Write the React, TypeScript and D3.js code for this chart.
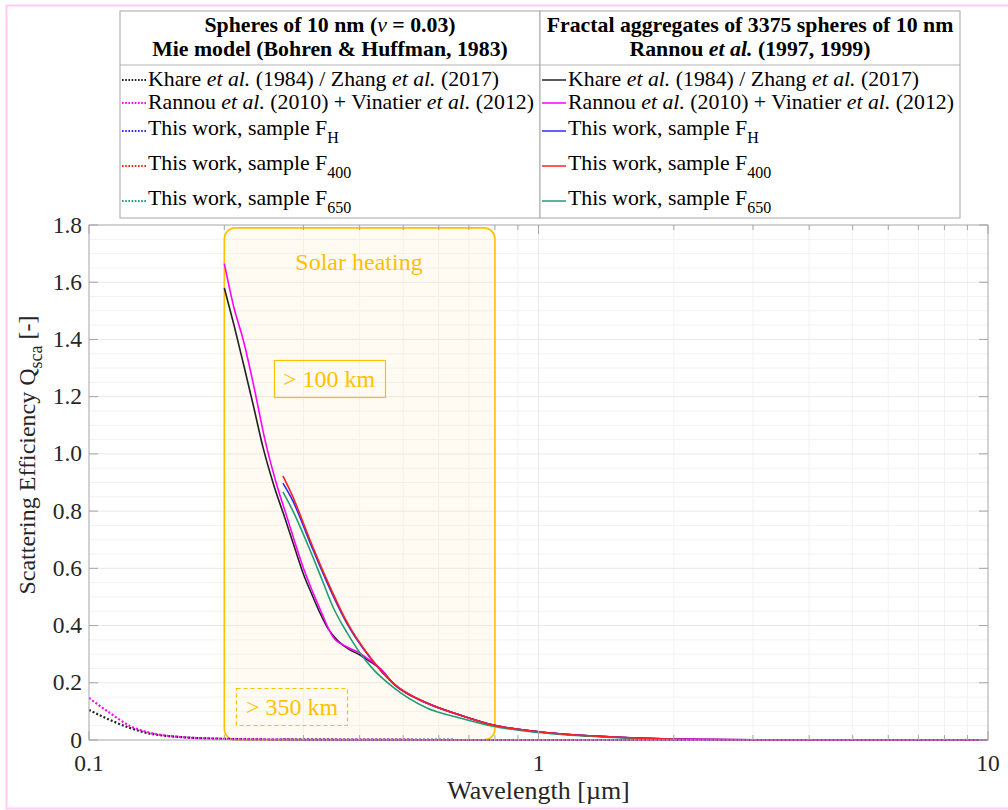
import React from 'react';
import * as d3 from 'd3';

// ---------- data ----------
const xTicks = [0.1, 1, 10];
const xTickLabels = ['0.1', '1', '10'];
const yTicks = [0, 0.2, 0.4, 0.6, 0.8, 1.0, 1.2, 1.4, 1.6, 1.8];
const yTickLabels = ['0', '0.2', '0.4', '0.6', '0.8', '1.0', '1.2', '1.4', '1.6', '1.8'];

// Fractal aggregates (solid lines)
const fracKhareLambda = [0.2, 0.21, 0.2204, 0.232, 0.2441, 0.258, 0.2729, 0.287, 0.2993, 0.313, 0.3265, 0.34, 0.3561, 0.378, 0.4008, 0.4218, 0.444, 0.4746, 0.5646, 0.6688, 0.792, 1.0, 1.465, 2.1, 3, 5, 10];
const fracKhareQ = [1.58, 1.452, 1.317, 1.17, 1.02, 0.888, 0.775, 0.67, 0.584, 0.51, 0.444, 0.39, 0.35, 0.318, 0.297, 0.274, 0.25, 0.199, 0.129, 0.087, 0.052, 0.029, 0.0105, 0.003, 0.001, 0.0003, 0.0];

const fracRannouLambda = [0.2, 0.2102, 0.2204, 0.2328, 0.2463, 0.2605, 0.2757, 0.2993, 0.3265, 0.349, 0.375, 0.4008, 0.4218, 0.444, 0.4746, 0.5646, 0.6688, 0.792, 1.0, 1.465, 2.1, 3, 5, 10];
const fracRannouQ = [1.665, 1.51, 1.398, 1.234, 1.049, 0.902, 0.779, 0.605, 0.458, 0.36, 0.325, 0.303, 0.278, 0.25, 0.199, 0.129, 0.087, 0.052, 0.029, 0.0105, 0.003, 0.001, 0.0003, 0.0];

const fracFHLambda = [0.27, 0.2843, 0.3102, 0.3384, 0.375, 0.4218, 0.4746, 0.5646, 0.6688, 0.792, 1.0, 1.465, 2.1];
const fracFHQ = [0.898, 0.835, 0.69, 0.551, 0.407, 0.288, 0.198, 0.129, 0.087, 0.052, 0.029, 0.0105, 0.002];

const fracF400Lambda = [0.27, 0.2843, 0.3102, 0.3384, 0.375, 0.4218, 0.4746, 0.5646, 0.6688, 0.792, 1.0, 1.465, 2.1];
const fracF400Q = [0.923, 0.849, 0.699, 0.559, 0.412, 0.29, 0.199, 0.129, 0.087, 0.052, 0.029, 0.0105, 0.002];

const fracF650Lambda = [0.27, 0.2843, 0.3102, 0.33, 0.349, 0.375, 0.4008, 0.43, 0.4746, 0.5646, 0.6688, 0.792, 1.0, 1.465, 2.1];
const fracF650Q = [0.867, 0.8, 0.664, 0.56, 0.465, 0.375, 0.304, 0.245, 0.185, 0.112, 0.077, 0.048, 0.026, 0.009, 0.002];

// Mie spheres (dotted lines)
const mieKhareLambda = [0.1, 0.1114, 0.1234, 0.1346, 0.1593, 0.2, 0.25, 0.3, 0.5, 1, 2, 5, 10];
const mieKhareQ = [0.105, 0.07, 0.042, 0.0245, 0.0105, 0.004, 0.0017, 0.0008, 0.0001, 0, 0, 0, 0];

const mieRannouLambda = [0.1, 0.1114, 0.1234, 0.1346, 0.1593, 0.2, 0.25, 0.3, 0.5, 1, 2, 5, 10];
const mieRannouQ = [0.147, 0.094, 0.049, 0.028, 0.0105, 0.004, 0.0017, 0.0008, 0.0001, 0, 0, 0, 0];

const mieSampleLambda = [0.27, 0.5, 1.0, 2.1];
const mieFHQ = [0.002, 0.0002, 0.00001, 0];
const mieF400Q = [0.002, 0.0002, 0.00001, 0];
const mieF650Q = [0.002, 0.0002, 0.00001, 0];

const solarBand = [0.2, 0.8];
const solarTop = 1.79;

// ---------- layout ----------
const W = 1008;
const H = 810;
const L = 89, R = 988, T = 225, B = 740;
const FONT = "'Liberation Serif', 'DejaVu Serif', serif";
const ORANGE = '#FFC000';
const LEG_FS = 21.8;

const COLORS = {
  black: '#222222',
  magenta: '#FF00FF',
  blue: '#2b2bff',
  red: '#FF2020',
  green: '#1f9e72',
};

type Series = { lam: number[]; q: number[]; color: string };

const solidSeries: Series[] = [
  { lam: fracKhareLambda, q: fracKhareQ, color: COLORS.black },
  { lam: fracRannouLambda, q: fracRannouQ, color: COLORS.magenta },
  { lam: fracFHLambda, q: fracFHQ, color: COLORS.blue },
  { lam: fracF650Lambda, q: fracF650Q, color: COLORS.green },
  { lam: fracF400Lambda, q: fracF400Q, color: COLORS.red },
];
const dottedSeries: Series[] = [
  { lam: mieKhareLambda, q: mieKhareQ, color: COLORS.black },
  { lam: mieSampleLambda, q: mieFHQ, color: COLORS.blue },
  { lam: mieSampleLambda, q: mieF400Q, color: COLORS.red },
  { lam: mieSampleLambda, q: mieF650Q, color: COLORS.green },
  { lam: mieRannouLambda, q: mieRannouQ, color: COLORS.magenta },
];

const legendRows = [
  { line: 80, base: 86, parts: [['Khare ', 'n'], ['et al.', 'i'], [' (1984) / Zhang ', 'n'], ['et al.', 'i'], [' (2017)', 'n']], sub: '', color: COLORS.black },
  { line: 103, base: 109, parts: [['Rannou ', 'n'], ['et al.', 'i'], [' (2010) + Vinatier ', 'n'], ['et al.', 'i'], [' (2012)', 'n']], sub: '', color: COLORS.magenta },
  { line: 131, base: 135, parts: [['This work, sample F', 'n']], sub: 'H', color: COLORS.blue },
  { line: 166, base: 170, parts: [['This work, sample F', 'n']], sub: '400', color: COLORS.red },
  { line: 201, base: 205, parts: [['This work, sample F', 'n']], sub: '650', color: COLORS.green },
];

const fs = (size: number, extra: React.CSSProperties = {}): React.CSSProperties => ({
  fontFamily: FONT,
  fontSize: size,
  ...extra,
});

export default function App() {
  const x = d3.scaleLog().domain([0.1, 10]).range([L, R]);
  const y = d3.scaleLinear().domain([0, 1.8]).range([B, T]);

  const line = d3
    .line<[number, number]>()
    .x((d) => x(d[0]))
    .y((d) => y(d[1]))
    .curve(d3.curveMonotoneX);

  const pts = (s: Series) => s.lam.map((l, i) => [l, s.q[i]] as [number, number]);

  const minorX: number[] = [];
  [0.1, 1].forEach((dec) => {
    for (let k = 2; k <= 9; k++) minorX.push(dec * k);
  });
  const minorY: number[] = [];
  for (let i = 1; i < 36; i++) {
    if (i % 4 !== 0) minorY.push(i * 0.05);
  }

  const renderParts = (parts: string[][]) =>
    parts.map((p, i) => (
      <tspan key={i} style={{ fontStyle: p[1] === 'i' ? 'italic' : 'normal' }}>
        {p[0]}
      </tspan>
    ));

  const legendBox = (x0: number, x1: number, dotted: boolean, head1: React.ReactNode, head2: React.ReactNode) => {
    const cx = (x0 + x1) / 2;
    return (
      <g>
        <rect x={x0} y={11} width={x1 - x0} height={207} fill="#fff" stroke="#b4b4b4" strokeWidth={1.2} />
        <line x1={x0} x2={x1} y1={65} y2={65} stroke="#b4b4b4" strokeWidth={1.2} />
        <text x={cx} y={32} textAnchor="middle" style={fs(LEG_FS, { fontWeight: 'bold' })} fill="#000">
          {head1}
        </text>
        <text x={cx} y={56} textAnchor="middle" style={fs(LEG_FS, { fontWeight: 'bold' })} fill="#000">
          {head2}
        </text>
        {legendRows.map((r, i) => (
          <g key={i}>
            <line
              x1={x0 + 2}
              x2={x0 + 26}
              y1={r.line}
              y2={r.line}
              stroke={r.color}
              strokeWidth={dotted ? 2 : 1.5}
              strokeDasharray={dotted ? '1.6,1.6' : undefined}
            />
            <text x={x0 + 28} y={r.base} style={fs(LEG_FS)} fill="#000">
              {renderParts(r.parts)}
              {r.sub ? (
                <tspan style={{ fontSize: 16 }} dy={8}>
                  {r.sub}
                </tspan>
              ) : null}
            </text>
          </g>
        ))}
      </g>
    );
  };

  return (
    <svg width={W} height={H} style={{ position: 'absolute', left: 0, top: 0, background: '#fff', fontFamily: FONT }}>
      <defs>
        <clipPath id="plotclip">
          <rect x={L} y={T} width={R - L} height={B - T + 2} />
        </clipPath>
      </defs>
      <rect x={0} y={0} width={W} height={H} fill="#fff" />
      {/* outer frame */}
      <rect x={6.5} y={5.5} width={1010} height={803} fill="none" stroke="#ffccf6" strokeWidth={2} />

      {/* grid */}
      <g>
        {minorY.map((v) => (
          <line key={'my' + v} x1={L} x2={R} y1={y(v)} y2={y(v)} stroke="#f2f2f2" strokeWidth={1} />
        ))}
        {minorX.map((v) => (
          <line key={'mx' + v} x1={x(v)} x2={x(v)} y1={T} y2={B} stroke="#f2f2f2" strokeWidth={1} />
        ))}
        {yTicks.slice(1, -1).map((v) => (
          <line key={'gy' + v} x1={L} x2={R} y1={y(v)} y2={y(v)} stroke="#e8e8e8" strokeWidth={1} />
        ))}
        <line x1={x(1)} x2={x(1)} y1={T} y2={B} stroke="#e8e8e8" strokeWidth={1} />
      </g>

      {/* solar heating band */}
      <rect
        x={x(solarBand[0])}
        y={y(solarTop)}
        width={x(solarBand[1]) - x(solarBand[0])}
        height={y(0) - y(solarTop)}
        rx={11}
        ry={11}
        fill="#FFE4B5"
        fillOpacity={0.16}
        stroke={ORANGE}
        strokeWidth={1.6}
      />

      {/* curves */}
      <g clipPath="url(#plotclip)">
        {solidSeries.map((s, i) => (
          <path key={'s' + i} d={line(pts(s)) || ''} fill="none" stroke={s.color} strokeWidth={1.6} />
        ))}
        {dottedSeries.map((s, i) => (
          <path
            key={'d' + i}
            d={line(pts(s)) || ''}
            fill="none"
            stroke={s.color}
            strokeWidth={2.2}
            strokeDasharray="2,2"
          />
        ))}
      </g>

      {/* annotations */}
      <text x={359} y={270} textAnchor="middle" style={fs(24)} fill={ORANGE}>
        Solar heating
      </text>
      <rect x={274.5} y={360.5} width={111} height={37} fill="none" stroke={ORANGE} strokeWidth={1.2} />
      <text x={329} y={387} textAnchor="middle" style={fs(24)} fill={ORANGE}>
        &gt; 100 km
      </text>
      <rect
        x={236.5}
        y={688.5}
        width={111}
        height={37}
        fill="none"
        stroke={ORANGE}
        strokeWidth={1.2}
        strokeDasharray="4,3"
      />
      <text x={292} y={715} textAnchor="middle" style={fs(24)} fill={ORANGE}>
        &gt; 350 km
      </text>

      {/* axes box */}
      <rect x={L} y={T} width={R - L} height={B - T} fill="none" stroke="#a6a6a6" strokeWidth={1} />

      {/* ticks */}
      <g stroke="#a6a6a6" strokeWidth={1}>
        {yTicks.map((v) => (
          <g key={'yt' + v}>
            <line x1={L} x2={L + 9} y1={y(v)} y2={y(v)} />
            <line x1={R} x2={R - 9} y1={y(v)} y2={y(v)} />
          </g>
        ))}
        {xTicks.map((v) => (
          <g key={'xt' + v}>
            <line x1={x(v)} x2={x(v)} y1={B} y2={B - 9} />
            <line x1={x(v)} x2={x(v)} y1={T} y2={T + 9} />
          </g>
        ))}
        {minorX.map((v) => (
          <g key={'xm' + v}>
            <line x1={x(v)} x2={x(v)} y1={B} y2={B - 5} />
            <line x1={x(v)} x2={x(v)} y1={T} y2={T + 5} />
          </g>
        ))}
      </g>

      {/* tick labels */}
      {yTicks.map((v, i) => (
        <text key={'yl' + v} x={L - 7} y={y(v) + 7.5} textAnchor="end" style={fs(23.5)} fill="#262626">
          {yTickLabels[i]}
        </text>
      ))}
      {xTicks.map((v, i) => (
        <text key={'xl' + v} x={x(v)} y={771} textAnchor="middle" style={fs(23.5)} fill="#262626">
          {xTickLabels[i]}
        </text>
      ))}

      {/* axis labels */}
      <text x={(L + R) / 2} y={799} textAnchor="middle" style={fs(26)} fill="#262626">
        Wavelength [µm]
      </text>
      <text
        transform={`translate(35, 455) rotate(-90)`}
        textAnchor="middle"
        style={fs(24)}
        fill="#262626"
      >
        Scattering Efficiency Q
        <tspan style={{ fontSize: 18 }} dy={7}>
          sca
        </tspan>
        <tspan dy={-7}> [-]</tspan>
      </text>

      {/* legends */}
      {legendBox(
        120,
        540,
        true,
        <>
          Spheres of 10 nm (<tspan style={{ fontStyle: 'italic', fontWeight: 'normal' }}>ν</tspan> = 0.03)
        </>,
        <>Mie model (Bohren &amp; Huffman, 1983)</>
      )}
      {legendBox(
        540,
        960,
        false,
        <>Fractal aggregates of 3375 spheres of 10 nm</>,
        <>
          Rannou <tspan style={{ fontStyle: 'italic' }}>et al.</tspan> (1997, 1999)
        </>
      )}
    </svg>
  );
}
